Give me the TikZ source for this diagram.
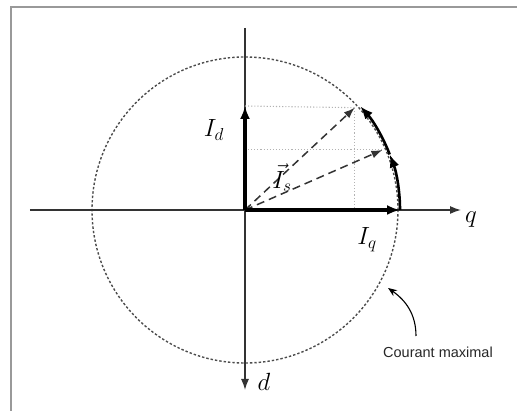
\documentclass[tikz,border=0pt]{standalone}
\usepackage{fontspec}
\setsansfont{Liberation Sans}
\usetikzlibrary{arrows.meta}

\begin{document}
\begin{tikzpicture}[
  x=1pt,y=1pt,
  frame/.style={draw=black!40,line width=1.8pt},
  axis/.style={draw=black!80,line width=1.4pt},
  limit/.style={draw=black!70,line width=1.4pt,dash pattern=on 2.4pt off 2pt},
  vec/.style={-{Latex[length=13pt,width=10pt]},draw=black,line width=3.2pt},
  dvec/.style={-{Latex[length=11pt,width=8pt]},draw=black!80,line width=1.5pt,dash pattern=on 8pt off 5pt},
  guide/.style={draw=black!30,line width=1.1pt,dotted},
  arcvec/.style={-{Latex[length=13pt,width=10pt]},draw=black,line width=2.6pt},
  label/.style={font=\fontsize{24}{26}\selectfont,text=black},
  note/.style={font=\sffamily\fontsize{14.5}{16}\selectfont,text=black!85},
]
\useasboundingbox (-245,-201) rectangle (272,210);
\coordinate (O) at (0,0);
% frame
\draw[frame] (-234,-205) -- (-234,203) -- (280,203);
% limit circle
\draw[limit] (O) circle (153);
% axes
\coordinate (qw) at (-215,0);
\coordinate (qe) at (216,0);
\coordinate (dn) at (0,182);
\coordinate (ds) at (0,-180);
\draw[axis] (qw) -- (O);
\draw[axis,-{Latex[length=11pt,width=8pt]}] (O) -- (qe);
\draw[axis] (dn) -- (O);
\draw[axis,-{Latex[length=11pt,width=8pt]}] (O) -- (ds);
\node[label] (q) at (226,-10) {$q$};
\node[label] (d) at (19,-172) {$d$};
% current vectors
\coordinate (Id) at (0,104);
\coordinate (Iq) at (155,0);
\coordinate (s1) at (43:150);
\coordinate (s2) at (23.6:150);
\draw[guide] (Id) -- (s1);
\draw[guide] (s1) -- (s1 |- O);
\draw[guide] (s2 -| O) -- (s2);
\draw[dvec] (O) -- (s1);
\draw[dvec] (O) -- (s2);
\draw[vec] (O) -- (Id);
\draw[vec] (O) -- (Iq);
\draw[arcvec] (Iq) arc[start angle=0,end angle=21,radius=155];
\draw[arcvec] (21:155) arc[start angle=21,end angle=42,radius=155];
\node[label] (lid) at (-31,80) {$I_d$};
\node[label] (liq) at (122,-30) {$I_q$};
\node[label] (lis) at (37,32) {$\vec{I}_s$};
% note
\node[note] (cm) at (193,-142) {Courant maximal};
\coordinate (cmc) at (143,-78);
\draw[-{Stealth[length=9pt,width=7pt]},line width=1.1pt] (171,-126) to[out=90,in=-35] (cmc);
\end{tikzpicture}
\end{document}
